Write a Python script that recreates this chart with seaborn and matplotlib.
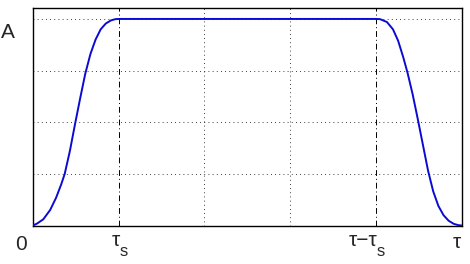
import matplotlib
matplotlib.use("Agg")
import matplotlib.pyplot as plt
import seaborn as sns
import pandas as pd

# Rising edge (0 -> tau_s), flat top, falling edge (tau - tau_s -> tau)
t_rise = [0.0, 0.05, 0.12, 0.2, 0.27, 0.33, 0.37, 0.43, 0.49, 0.55,
          0.61, 0.67, 0.73, 0.79, 0.85, 0.91, 0.96, 1.0]
a_rise = [0.0, 0.01, 0.03, 0.075, 0.135, 0.2, 0.25, 0.36, 0.49, 0.615,
          0.735, 0.83, 0.9, 0.95, 0.978, 0.993, 0.999, 1.0]
t_top = [2.0, 3.0]
a_top = [1.0, 1.0]
t_fall = [4.0, 4.05, 4.13, 4.2, 4.26, 4.32, 4.37, 4.43, 4.49, 4.55,
          4.61, 4.67, 4.73, 4.79, 4.85, 4.91, 4.96, 5.0]
a_fall = [1.0, 0.999, 0.985, 0.95, 0.895, 0.815, 0.74, 0.635, 0.515, 0.39,
          0.265, 0.165, 0.095, 0.05, 0.023, 0.008, 0.002, 0.0]

xtick_main = ["τ", "τ−τ", "τ"]
xtick_sub = ["s", "s", ""]
ylabel_txt = "A"
zero_txt = "0"

df = pd.DataFrame({"t": t_rise + t_top + t_fall, "a": a_rise + a_top + a_fall})

sns.set_style("white")
plt.rcParams["font.family"] = ["Liberation Sans", "DejaVu Sans"]

fig = plt.figure(figsize=(4.70, 2.64), dpi=100)
ax = fig.add_axes([33 / 470, 1 - 225.5 / 264, (461.5 - 33) / 470, (225.5 - 8) / 264])

# grid
for gx in [2, 3]:
    ax.axvline(gx, color="black", lw=0.6, ls=(0, (1, 4)), zorder=1)
for gy in [0.25, 0.5, 0.75, 1.0]:
    ax.axhline(gy, color="black", lw=0.6, ls=(0, (1, 4)), zorder=1)
for gx in [1, 4]:
    ax.axvline(gx, color="black", lw=0.7, ls=(0, (6, 3, 1, 3)), zorder=1)

sns.lineplot(data=df, x="t", y="a", sort=False, estimator=None, ax=ax,
             color="#0a0ad2", lw=1.4, zorder=3)

ax.set_xlim(0, 5)
ax.set_ylim(0, 1.053)
ax.set_xticks([])
ax.set_yticks([])
ax.set_xlabel("")
ax.set_ylabel("")
for sp in ax.spines.values():
    sp.set_visible(True)
    sp.set_color("black")
    sp.set_linewidth(1.0)

def fx(px):
    return px / 470

def fy(py):
    return 1 - py / 264

fs = 15
fig.text(fx(8), fy(32), ylabel_txt, fontsize=fs, ha="center", va="center")
fig.text(fx(21), fy(245), zero_txt, fontsize=fs, ha="center", va="center")
centers = [118, 375, 457]
for c, m, s in zip(centers, xtick_main, xtick_sub):
    if s:
        fig.text(fx(c + 2), fy(240), m, fontsize=fs, ha="right", va="center")
        fig.text(fx(c + 2), fy(251), s, fontsize=12, ha="left", va="center")
    else:
        fig.text(fx(c), fy(242), m, fontsize=fs, ha="center", va="center")

fig.savefig("out.png", dpi=100)
